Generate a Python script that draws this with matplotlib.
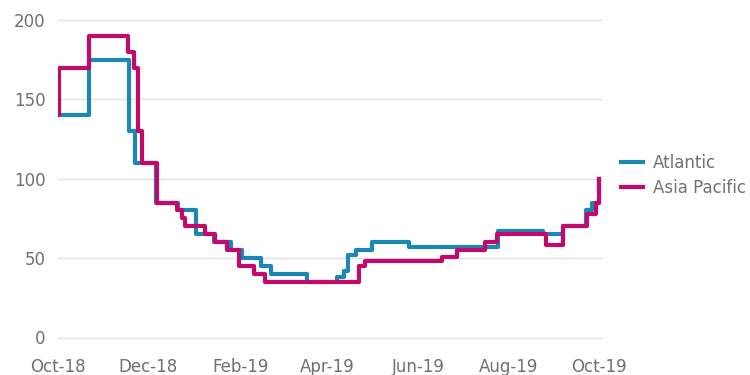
import pandas as pd
import matplotlib.pyplot as plt

# change points (values hold until the next date)
atl_dates = ["2018-10-01", "2018-10-22", "2018-11-18", "2018-11-22", "2018-12-06",
             "2018-12-21", "2019-01-02", "2019-01-14", "2019-01-26", "2019-02-02",
             "2019-02-15", "2019-02-22", "2019-03-18", "2019-04-07", "2019-04-12",
             "2019-04-15", "2019-04-20", "2019-05-01", "2019-05-26", "2019-07-25",
             "2019-08-24", "2019-09-07", "2019-09-22", "2019-09-26", "2019-10-01"]
atl_vals = [140, 175, 130, 110, 85,
            80, 65, 60, 55, 50,
            45, 40, 35, 38, 42,
            52, 55, 60, 57, 67,
            65, 70, 80, 85, 100]

apac_dates = ["2018-10-01", "2018-10-02", "2018-10-22", "2018-11-17", "2018-11-21",
              "2018-11-24", "2018-11-27", "2018-12-07", "2018-12-20", "2018-12-24",
              "2018-12-26", "2019-01-08", "2019-01-15", "2019-01-23", "2019-01-31",
              "2019-02-10", "2019-02-18", "2019-04-22", "2019-04-26", "2019-06-17",
              "2019-06-27", "2019-07-16", "2019-07-24", "2019-08-26", "2019-09-07",
              "2019-09-23", "2019-09-29", "2019-10-01"]
apac_vals = [140, 170, 190, 180, 170,
             130, 110, 85, 80, 75,
             70, 65, 60, 55, 45,
             40, 35, 45, 48, 51,
             55, 60, 65, 58, 70,
             78, 85, 100]

tick_dates = ["2018-10-01", "2018-12-01", "2019-02-01", "2019-04-01",
              "2019-06-01", "2019-08-01", "2019-10-01"]
tick_labels = ["Oct-18", "Dec-18", "Feb-19", "Apr-19", "Jun-19", "Aug-19", "Oct-19"]

blue = "#1a87b5"
pink = "#c4096c"
grey = "#707070"

plt.rcParams["font.family"] = ["DejaVu Sans"]
fig = plt.figure(figsize=(7.5, 3.75), dpi=100)
ax = fig.add_axes([0.0773, 0.1, 0.7253, 0.847])

ax.plot(pd.to_datetime(atl_dates), atl_vals, color=blue, lw=3,
        drawstyle="steps-post", label="Atlantic")
ax.plot(pd.to_datetime(apac_dates), apac_vals, color=pink, lw=3,
        drawstyle="steps-post", label="Asia Pacific")

ax.set_ylim(0, 200)
ax.set_yticks([0, 50, 100, 150, 200])
ax.set_xlim(pd.Timestamp("2018-10-01"), pd.Timestamp("2019-10-03"))
ax.set_xticks(pd.to_datetime(tick_dates))
ax.set_xticklabels(tick_labels)

ax.grid(axis="y", color="#e2e2e2", lw=1)
ax.set_axisbelow(True)
for gl in ax.get_ygridlines():
    gl.set_clip_on(False)
for s in ax.spines.values():
    s.set_visible(False)
ax.tick_params(axis="both", length=0, labelsize=12, labelcolor=grey)
ax.tick_params(axis="x", pad=15)
ax.tick_params(axis="y", pad=9)

ax.legend(loc="center left", bbox_to_anchor=(1.035, 0.51), frameon=False,
          fontsize=12, labelcolor=grey, handlelength=1.3, handletextpad=0.6,
          borderpad=0, borderaxespad=0, labelspacing=0.45)

fig.savefig("out.png", dpi=100)
